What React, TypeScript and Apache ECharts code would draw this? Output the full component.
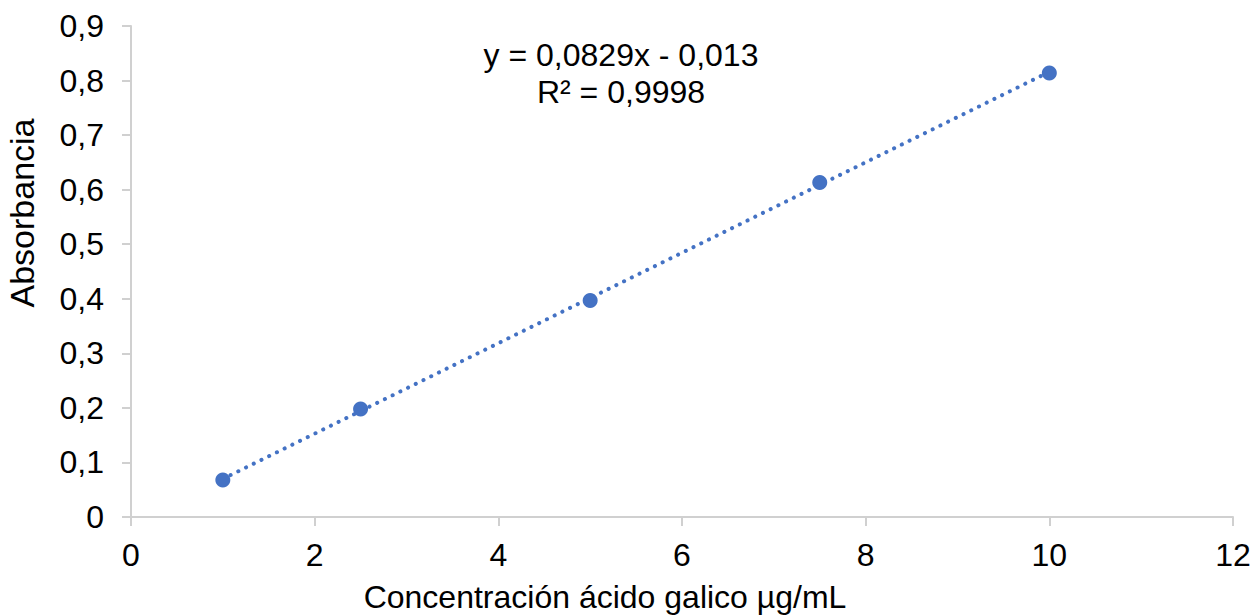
import React, { useEffect, useRef } from "react";
import * as echarts from "echarts";

const concentration = [1, 2.5, 5, 7.5, 10];
const absorbance = [0.068, 0.198, 0.397, 0.613, 0.814];
const trendX = [1, 10];
const trendY = [0.0699, 0.816];
const equationLines = ["y = 0,0829x - 0,013", "R² = 0,9998"];
const xTitle = "Concentración ácido galico µg/mL";
const yTitle = "Absorbancia";

const FONT = "'Liberation Sans', Arial, sans-serif";
const FS = 32;
const BLUE = "#4472C4";
const AXIS = "#d0d0d0";

export default function App() {
  const ref = useRef<HTMLDivElement>(null);
  useEffect(() => {
    if (!ref.current) return;
    const chart = echarts.init(ref.current, undefined, { renderer: "svg" });
    chart.setOption({
      animation: false,
      backgroundColor: "#ffffff",
      textStyle: { fontFamily: FONT },
      grid: { left: 131, right: 23, top: 26, bottom: 99 },
      xAxis: {
        type: "value",
        min: 0,
        max: 12,
        interval: 2,
        axisLine: { show: true, lineStyle: { color: AXIS, width: 2 } },
        axisTick: { show: true, length: 9, lineStyle: { color: AXIS, width: 2 } },
        splitLine: { show: false },
        axisLabel: {
          color: "#000",
          fontSize: FS,
          fontFamily: FONT,
          margin: 22,
          formatter: (v: number) => String(v),
        },
      },
      yAxis: {
        type: "value",
        min: 0,
        max: 0.9,
        interval: 0.1,
        axisLine: { show: true, lineStyle: { color: AXIS, width: 2 } },
        axisTick: { show: true, length: 9, lineStyle: { color: AXIS, width: 2 } },
        splitLine: { show: false },
        axisLabel: {
          color: "#000",
          fontSize: FS,
          fontFamily: FONT,
          margin: 27,
          formatter: (v: number) => (Math.round(v * 10) / 10).toString().replace(".", ","),
        },
      },
      series: [
        {
          type: "line",
          data: trendX.map((x, i) => [x, trendY[i]]),
          showSymbol: false,
          symbol: "none",
          lineStyle: { color: BLUE, width: 4, type: [0.1, 8.5], cap: "round" },
          z: 1,
          silent: true,
        },
        {
          type: "scatter",
          data: concentration.map((x, i) => [x, absorbance[i]]),
          symbol: "circle",
          symbolSize: 15,
          itemStyle: { color: BLUE, opacity: 1 },
          z: 2,
        },
      ],
      graphic: [
        {
          type: "text",
          x: 621,
          y: 73,
          style: {
            text: equationLines.join("\n"),
            fontSize: FS,
            lineHeight: 37,
            fontFamily: FONT,
            fill: "#000",
            textAlign: "center",
            textVerticalAlign: "middle",
          },
        },
        {
          type: "text",
          x: 605,
          y: 597,
          style: {
            text: xTitle,
            fontSize: FS,
            lineHeight: 32,
            fontFamily: FONT,
            fill: "#000",
            textAlign: "center",
            textVerticalAlign: "middle",
          },
        },
        {
          type: "text",
          x: 22,
          y: 213,
          rotation: Math.PI / 2,
          style: {
            text: yTitle,
            fontSize: 34,
            fontFamily: FONT,
            fill: "#000",
            textAlign: "center",
            textVerticalAlign: "middle",
          },
        },
      ],
    });
    return () => chart.dispose();
  }, []);
  return (
    <div
      ref={ref}
      style={{ position: "fixed", left: 0, top: 0, width: 1256, height: 616, background: "#fff" }}
    />
  );
}
